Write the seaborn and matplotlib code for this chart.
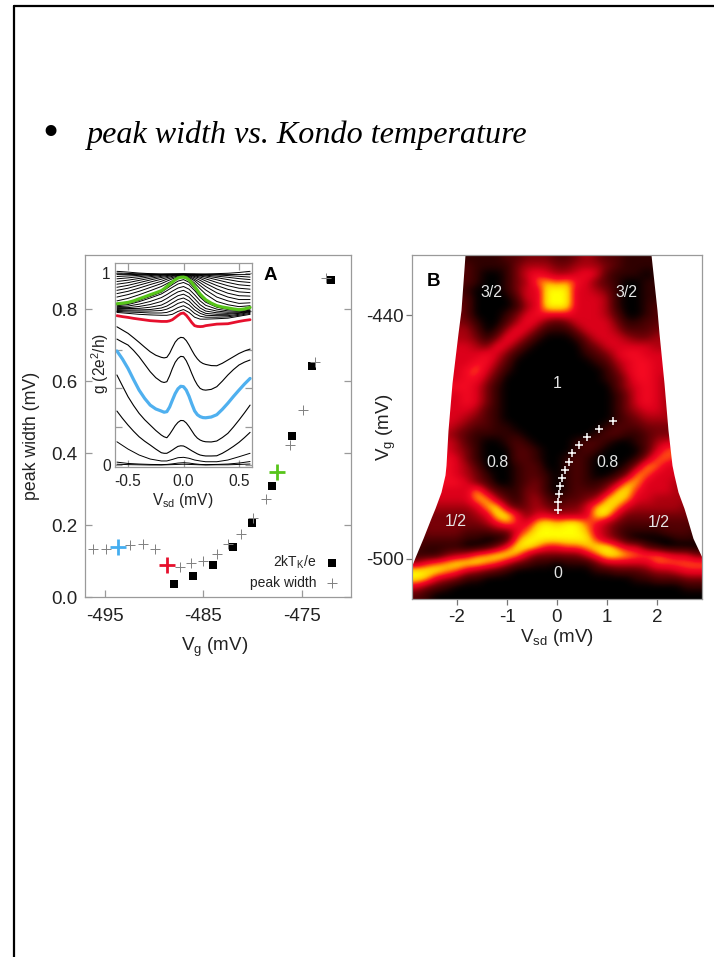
import numpy as np
import pandas as pd
import matplotlib
matplotlib.use("Agg")
import matplotlib.pyplot as plt
from matplotlib.colors import LinearSegmentedColormap
from matplotlib.lines import Line2D
from matplotlib.transforms import Affine2D
import seaborn as sns

# ---------- panel A data
vg_square = [-488, -486, -484, -482, -480, -478, -476, -474, -472]
tk_square = [0.037, 0.057, 0.090, 0.138, 0.206, 0.309, 0.446, 0.641, 0.881]
vg_cross = [-496.2, -494.9, -492.4, -491.1, -489.9, -487.4, -486.2, -485.0, -483.6, -482.45,
            -481.2, -479.9, -478.65, -476.2, -474.9, -473.7, -472.5]
pw_cross = [0.133, 0.133, 0.144, 0.147, 0.133, 0.084, 0.095, 0.100, 0.119, 0.146,
            0.176, 0.220, 0.271, 0.423, 0.520, 0.652, 0.885]
vg_blue, pw_blue = [-493.6], [0.138]
vg_red, pw_red = [-488.7], [0.089]
vg_green, pw_green = [-477.5], [0.348]

# ---------- inset curves, main traces
v_fine = [-.6, -.55, -.5, -.45, -.4, -.35, -.3, -.25, -.2, -.175, -.15, -.125, -.1, -.075, -.05, -.025, 0,
          .025, .05, .075, .1, .125, .15, .175, .2, .25, .3, .35, .4, .45, .5, .55, .6]
g_blue = [.594, .552, .503, .445, .390, .347, .312, .292, .281, .275, .278, .302, .338, .372, .397, .410, .408,
          .390, .358, .318, .282, .262, .252, .247, .246, .250, .262, .290, .322, .357, .390, .422, .451]
g_red = [.778, .773, .769, .764, .760, .756, .752, .750, .748, .748, .748, .751, .757, .768, .779, .789, .792,
         .780, .762, .742, .726, .722, .721, .722, .726, .730, .734, .735, .736, .742, .748, .753, .757]
g_green = [.840, .843, .847, .855, .866, .876, .887, .897, .908, .918, .930, .942, .953, .965, .974, .978, .979,
           .975, .965, .950, .930, .910, .890, .875, .861, .843, .830, .823, .818, .813, .809, .813, .821]
g_main = [
    [.720, .703, .686, .663, .639, .614, .590, .572, .561, .558, .561, .582, .612, .640, .657, .665, .663,
     .648, .625, .598, .573, .553, .538, .529, .524, .518, .517, .530, .547, .564, .581, .594, .604],
    [.656, .640, .625, .597, .564, .525, .486, .455, .434, .430, .434, .465, .503, .535, .555, .566, .564,
     .543, .512, .476, .443, .417, .399, .392, .390, .394, .408, .437, .469, .497, .521, .536, .547],
    [.469, .412, .356, .310, .269, .236, .208, .180, .156, .147, .142, .160, .182, .205, .222, .232, .231,
     .219, .200, .178, .156, .140, .130, .124, .121, .120, .125, .143, .165, .198, .234, .272, .312],
    [.281, .243, .208, .176, .147, .124, .104, .083, .064, .061, .061, .069, .078, .088, .097, .100, .099,
     .092, .083, .074, .066, .058, .052, .049, .047, .047, .048, .061, .078, .097, .118, .143, .170],
]

# ---------- inset curves, remaining traces
v_inset = [-0.6, -0.5, -0.4, -0.3, -0.2, -0.15, -0.1, -0.05, 0, 0.05, 0.1, 0.15, 0.2, 0.3, 0.4, 0.5, 0.6]
g_low = [
    [.121, .083, .052, .031, .021, .021, .029, .038, .040, .035, .026, .021, .017, .017, .026, .043, .061],
    [.015, .008, .005, .003, .002, .003, .006, .010, .012, .010, .006, .003, .002, .003, .005, .010, .018],
    [.004, .002, .001, .000, .000, .001, .002, .003, .004, .003, .002, .001, .000, .001, .001, .003, .005],
]
g_high = [
    [.795, .790, .785, .782, .780, .780, .785, .800, .810, .795, .770, .760, .760, .762, .765, .775, .785],
    [.800, .797, .795, .792, .792, .795, .805, .820, .830, .815, .790, .775, .770, .770, .772, .780, .790],
    [.805, .803, .802, .802, .805, .812, .825, .842, .851, .835, .808, .790, .780, .778, .778, .785, .795],
    [.810, .808, .808, .810, .818, .828, .845, .862, .870, .855, .825, .803, .790, .785, .785, .790, .798],
    [.815, .815, .816, .822, .833, .847, .865, .882, .890, .875, .845, .818, .802, .793, .790, .793, .800],
    [.820, .820, .826, .836, .852, .868, .886, .902, .910, .895, .866, .835, .815, .802, .796, .797, .803],
    [.825, .828, .838, .852, .872, .888, .906, .922, .930, .916, .887, .855, .832, .812, .803, .801, .806],
    [.830, .836, .851, .870, .891, .908, .926, .943, .951, .938, .909, .874, .848, .822, .810, .806, .812],
    [.835, .842, .858, .878, .900, .920, .940, .958, .966, .952, .920, .882, .855, .826, .813, .808, .816],
    [.855, .868, .887, .908, .930, .945, .960, .975, .982, .972, .948, .918, .890, .852, .835, .825, .830],
    [.875, .888, .905, .925, .945, .958, .970, .980, .985, .977, .960, .935, .912, .875, .855, .842, .845],
    [.893, .905, .922, .940, .957, .968, .977, .985, .988, .982, .968, .950, .930, .897, .875, .862, .862],
    [.910, .921, .937, .953, .968, .976, .983, .988, .990, .986, .976, .962, .946, .917, .895, .882, .880],
    [.926, .936, .950, .964, .977, .982, .987, .990, .992, .989, .982, .972, .959, .935, .915, .902, .898],
    [.942, .950, .962, .973, .983, .987, .990, .992, .993, .991, .986, .979, .970, .951, .934, .921, .916],
    [.956, .963, .972, .981, .988, .990, .992, .993, .994, .992, .989, .985, .979, .965, .951, .939, .934],
    [.970, .975, .981, .987, .991, .992, .993, .994, .994, .993, .991, .988, .985, .976, .966, .956, .951],
    [.982, .985, .988, .991, .993, .993, .994, .994, .995, .994, .993, .991, .989, .984, .978, .971, .966],
    [.992, .992, .993, .993, .993, .994, .994, .994, .994, .994, .994, .993, .992, .990, .987, .983, .979],
    [1.000, .998, .996, .995, .994, .994, .994, .994, .994, .994, .994, .994, .994, .993, .993, .992, .992],
    [1.009, 1.005, 1.000, .997, .995, .995, .995, .995, .995, .995, .995, .995, .995, .997, .999, 1.003, 1.009],
]

# ---------- panel B data: conductance map (0-9), rows top to bottom
map_rows = [
    "11111 11112 23332 23432 21111 1111",
    "22222 21111 34443 34443 21111 1111",
    "22222 21001 35654 45652 11101 1111",
    "22222 21001 34787 86532 10011 1111",
    "22222 10001 35599 95543 10011 1111",
    "22222 20000 25599 95554 10011 1111",
    "33333 20000 14599 95554 10012 2222",
    "33333 20001 35666 65554 20012 2222",
    "33333 31002 46532 35555 31122 3333",
    "33334 42014 65311 13555 42223 3333",
    "44444 43136 53100 01355 54334 4444",
    "55555 54365 31000 00235 55554 4444",
    "55555 55653 10000 00123 56655 5555",
    "55555 56642 00000 00012 45665 5555",
    "55555 67531 00000 00001 35665 5555",
    "55555 66420 00000 00001 24665 4444",
    "66666 65310 00000 00000 24565 4444",
    "55555 65310 00000 00000 13565 4444",
    "55555 65310 00000 00000 13565 4444",
    "55555 54210 00000 00000 13455 4444",
    "55555 43210 00000 00000 12344 4444",
    "55554 32211 00000 00001 22233 3333",
    "44443 21111 10000 00012 21123 3333",
    "55554 21001 21000 01221 00124 5555",
    "55554 31000 22100 01210 00025 7777",
    "66665 31000 22100 12100 00147 7666",
    "66665 42000 12200 12100 01487 5555",
    "66665 43100 12210 12100 13875 5555",
    "66666 53200 12310 12112 48855 5444",
    "55555 58421 13310 12224 89655 5444",
    "55555 58842 13421 22348 98554 4444",
    "44444 45894 23432 33589 85444 4433",
    "33333 34599 63554 44599 53333 3333",
    "33333 33468 65898 99764 32222 2222",
    "23333 22233 57999 99854 21111 2221",
    "22222 11001 79999 99964 31000 0111",
    "21111 00136 99866 77899 75521 0000",
    "11134 57899 85333 33579 98777 6553",
    "46789 99875 32110 11135 55557 7777",
    "99987 54321 00000 00011 22234 4566",
    "98543 11000 00000 00000 00112 2233",
    "53210 00000 00000 00000 00000 0011",
    "21000 00000 00000 00000 00000 0000",
]
edge_vg = [-425.07, -438.7, -444.4, -456.7, -468.3, -476.9, -479.3, -483.5, -487.5, -489.9, -494.9, -499.6, -501.5, -509.85]
edge_left = [-1.84, -1.92, -1.98, -2.10, -2.18, -2.22, -2.24, -2.32, -2.44, -2.52, -2.68, -2.84, -2.9, -2.9]
edge_right = [1.88, 2.00, 2.04, 2.14, 2.22, 2.30, 2.34, 2.42, 2.54, 2.60, 2.72, 2.9, 2.9, 2.9]
track_vsd = [1.12, 0.83, 0.59, 0.43, 0.30, 0.23, 0.16, 0.10, 0.05, 0.03, 0.02, 0.01]
track_vg = [-466, -468, -470, -472, -474, -476, -478, -480, -482, -484, -486, -488]
region_text = ["3/2", "3/2", "1", "0.8", "0.8", "1/2", "1/2", "0"]
region_vsd = [-1.31, 1.39, 0, -1.19, 1.01, -2.03, 2.03, 0.02]
region_vg = [-434.4, -434.3, -456.7, -476.3, -476.3, -490.7, -490.9, -503.5]

# ---------- style
sns.set_theme(style="white")
plt.rcParams["font.family"] = ["Liberation Sans", "DejaVu Sans"]
plt.rcParams["mathtext.fontset"] = "custom"
plt.rcParams["mathtext.rm"] = "Liberation Sans"
plt.rcParams["mathtext.default"] = "rm"
plt.rcParams["axes.unicode_minus"] = False
GRAY = "#9a9a9a"
INK = "#222222"
W, H = 714, 957

fig = plt.figure(figsize=(W / 100, H / 100), dpi=100, facecolor="white")
px = Affine2D().scale(1 / W, -1 / H).translate(0, 1) + fig.transFigure


def add_axes(l, t, r, b):
    return fig.add_axes([l / W, 1 - b / H, (r - l) / W, (b - t) / H])


def frame(ax):
    for s in ax.spines.values():
        s.set_visible(True)
        s.set_color(GRAY)
        s.set_linewidth(0.9)


# page frame and heading
fig.add_artist(Line2D([14 / W, 14 / W], [0, 1 - 6 / H], color="black", lw=1.6, transform=fig.transFigure))
fig.add_artist(Line2D([14 / W, 1], [1 - 6 / H, 1 - 6 / H], color="black", lw=1.6, transform=fig.transFigure))
fig.text(87, 143, "peak width vs. Kondo temperature", transform=px, family="Liberation Serif",
         style="italic", fontsize=23.1, color="black", va="baseline")
fig.text(50, 146, "•", transform=px, family="Liberation Serif", fontsize=33, color="black",
         ha="center", va="baseline")

# ---------- panel A
a = add_axes(84.7, 254.7, 350.7, 597)
frame(a)
sns.scatterplot(x=vg_square, y=tk_square, ax=a, marker="s", s=30, color="black", edgecolor="black",
                linewidth=0, label=r"2kT$_{K}$/e", zorder=3)
sns.scatterplot(x=vg_cross, y=pw_cross, ax=a, marker="+", s=45, color="#808080", linewidth=0.7,
                label="peak width", zorder=3)
sns.scatterplot(x=vg_blue, y=pw_blue, ax=a, marker="+", s=120, color="#45aef0", linewidth=2, legend=False, zorder=4)
sns.scatterplot(x=vg_red, y=pw_red, ax=a, marker="+", s=120, color="#e6102d", linewidth=2, legend=False, zorder=4)
sns.scatterplot(x=vg_green, y=pw_green, ax=a, marker="+", s=120, color="#57c41a", linewidth=2, legend=False, zorder=4)
a.set_xlim(-497.03, -470.03)
a.set_ylim(0, 0.951)
a.set_xticks([-495, -485, -475])
a.set_yticks([0, 0.2, 0.4, 0.6, 0.8])
a.set_yticklabels(["0.0", "0.2", "0.4", "0.6", "0.8"])
a.tick_params(axis="both", direction="in", length=5, width=0.9, color=GRAY, labelsize=13.5,
              labelcolor=INK, right=True, left=True, bottom=True, pad=5)
a.tick_params(axis="x", pad=8)
a.set_xlabel(r"V$_{g}$ (mV)", fontsize=13.5, color=INK, va="center")
a.xaxis.set_label_coords(215, 647, transform=px)
a.set_ylabel("peak width (mV)", fontsize=12.8, color=INK, va="center")
a.yaxis.set_label_coords(32, 436, transform=px)
leg = a.legend(loc="lower right", bbox_to_anchor=(340, 590), bbox_transform=px, frameon=False,
               markerfirst=False, fontsize=10, labelcolor=INK, handletextpad=0.5, labelspacing=0.35,
               borderpad=0, borderaxespad=0, handlelength=1.2)
fig.text(270, 275, "A", transform=px, fontsize=13.5, fontweight="bold", color="black", ha="center", va="center")

# ---------- inset
ins = add_axes(114.7, 262.7, 252.3, 467.3)
frame(ins)
ins.set_facecolor("white")
ins.set_zorder(5)
for curve in g_low + g_high:
    sns.lineplot(x=v_inset, y=curve, ax=ins, color="black", linewidth=0.7, errorbar=None, sort=False, legend=False)
for curve in g_main:
    sns.lineplot(x=v_fine, y=curve, ax=ins, color="black", linewidth=0.8, errorbar=None, sort=False, legend=False)
sns.lineplot(x=v_fine, y=g_blue, ax=ins, color="#4fb0ef", linewidth=2.3, errorbar=None, sort=False, legend=False)
sns.lineplot(x=v_fine, y=g_red, ax=ins, color="#e6102d", linewidth=2.0, errorbar=None, sort=False, legend=False)
sns.lineplot(x=v_fine, y=g_green, ax=ins, color="#57c41a", linewidth=2.3, errorbar=None, sort=False, legend=False)
ins.set_xlim(-0.62, 0.62)
ins.set_ylim(-0.012, 1.054)
ins.set_xticks([-0.5, 0, 0.5])
ins.set_xticklabels(["-0.5", "0.0", "0.5"])
ins.set_yticks([0, 0.2, 0.4, 0.6, 0.8, 1.0])
ins.set_yticklabels(["0", "", "", "", "", "1"])
ins.tick_params(axis="both", direction="in", length=5, width=0.9, color=GRAY, labelsize=11.2,
                labelcolor=INK, top=True, right=True, left=True, bottom=True, pad=3)
ins.tick_params(axis="x", pad=5)
ins.set_xlabel(r"V$_{sd}$ (mV)", fontsize=11.2, color=INK, va="center")
ins.xaxis.set_label_coords(183, 500, transform=px)
ins.set_ylabel(r"g (2e$^{2}$/h)", fontsize=11.2, color=INK, va="center")
ins.yaxis.set_label_coords(100, 363, transform=px)

# ---------- panel B
b = add_axes(412.3, 254.7, 702, 599)
frame(b)
cmap = LinearSegmentedColormap.from_list("map", [
    (0.0, "#000000"), (1 / 9, "#300000"), (2 / 9, "#520003"), (3 / 9, "#780007"), (4 / 9, "#aa000e"),
    (5 / 9, "#dc001a"), (6 / 9, "#f50a22"), (7 / 9, "#ff5a0c"), (8 / 9, "#ffc000"), (1.0, "#ffff00")])
grid = np.array([[int(c) for c in row.replace(" ", "")] for row in map_rows], dtype=float)
b.imshow(grid, cmap=cmap, vmin=0, vmax=9, aspect="auto", interpolation="bicubic",
         extent=(-2.894, 2.9, -509.85, -425.07), zorder=1)
b.fill_betweenx(edge_vg, -3.0, edge_left, color="white", lw=0, zorder=2)
b.fill_betweenx(edge_vg, edge_right, 3.0, color="white", lw=0, zorder=2)
sns.scatterplot(x=track_vsd, y=track_vg, ax=b, marker="+", s=28, color="white", linewidth=1.1, legend=False, zorder=4)
for t, xv, yv in zip(region_text, region_vsd, region_vg):
    b.text(xv, yv, t, color="#e4e4e4", fontsize=11.4, ha="center", va="center", zorder=5)
b.set_xlim(-2.894, 2.9)
b.set_ylim(-509.85, -425.07)
b.set_xticks([-2, -1, 0, 1, 2])
b.set_xticklabels(["-2", "-1", "0", "1", "2"])
b.set_yticks([-440, -500])
b.set_yticklabels(["-440", "-500"])
b.tick_params(axis="both", direction="out", length=4, width=0.9, color="#777777", labelsize=13.5,
              labelcolor=INK, left=True, bottom=True, pad=2)
b.tick_params(axis="x", pad=3)
b.set_xlabel(r"V$_{sd}$ (mV)", fontsize=13.5, color=INK, va="center")
b.xaxis.set_label_coords(556.7, 637, transform=px)
b.set_ylabel(r"V$_{g}$ (mV)", fontsize=13.5, color=INK, va="center")
b.yaxis.set_label_coords(386, 427, transform=px)
fig.text(434, 281, "B", transform=px, fontsize=13.5, fontweight="bold", color="black", ha="center", va="center", zorder=10)

fig.savefig("out.png", dpi=100, facecolor="white")
